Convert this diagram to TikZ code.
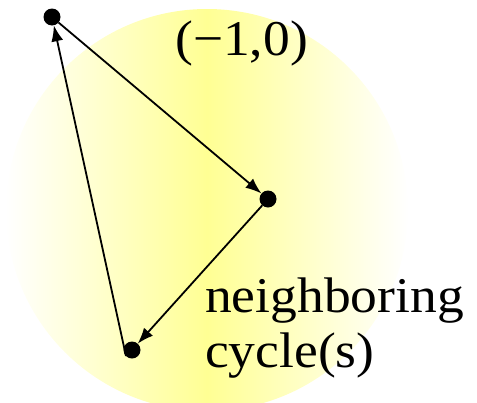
\documentclass[tikz,border=0pt]{standalone}
\usepackage{fontspec}
\setmainfont[FakeStretch=1.07]{Liberation Serif}
\usetikzlibrary{arrows.meta}
\tikzset{
  dot/.style={circle, fill=black, inner sep=0pt, outer sep=0pt, minimum size=17pt},
  link/.style={line width=1.8pt, -{Latex[length=16pt,width=12pt]}},
  lbl/.style={inner sep=0pt, font=\fontsize{50}{55}\selectfont}
}
\begin{document}
\begin{tikzpicture}[x=1pt,y=-1pt]
\useasboundingbox (0,0) rectangle (477,402);
\begin{scope}
\clip (0,0) rectangle (477,402);
\shade[left color=white, right color=white, middle color=yellow!42] (207,210) circle[radius=201pt];
\end{scope}
\node[dot] (a) at (52,17) {};
\node[dot] (b) at (268,199) {};
\node[dot] (c) at (132,350) {};
\draw[link] (a) -- (b);
\draw[link] (b) -- (c);
\draw[link] (c.south west) -- (a);
\node[lbl, anchor=base west] (t1) at (175,55) {(−1,0)};
\node[lbl, anchor=north west, align=left] (t2) at (205,278) {neighboring\\cycle(s)};
\end{tikzpicture}
\end{document}
